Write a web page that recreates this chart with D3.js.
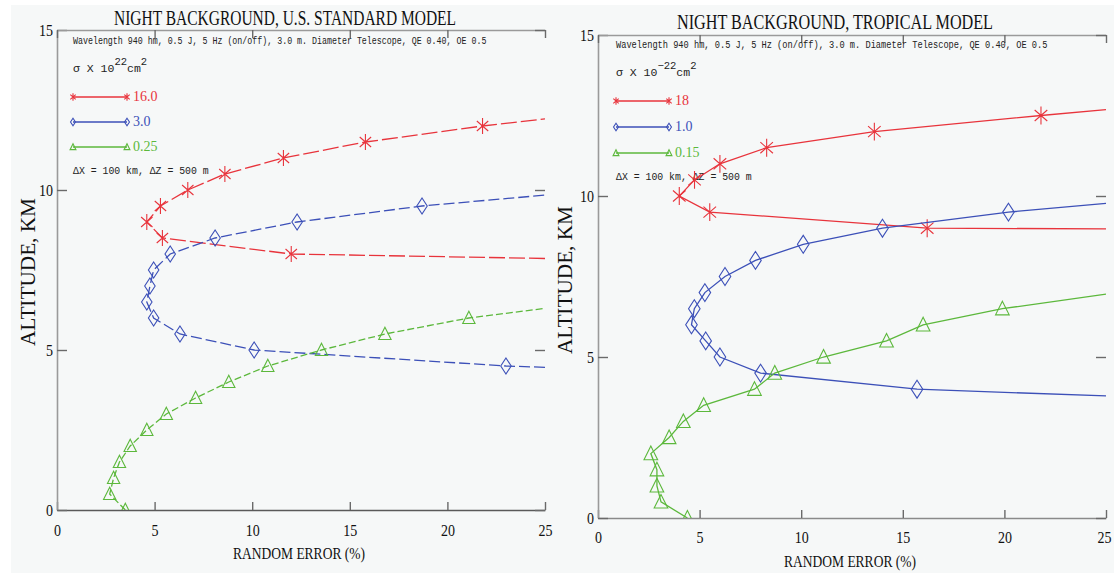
<!DOCTYPE html>
<html>
<head>
<meta charset="utf-8">
<script src="https://cdn.jsdelivr.net/npm/d3@7"></script>
<style>
  body { margin: 0; background: #fff; }
  svg { display: block; }
</style>
</head>
<body>
<div id="chart"></div>
<script>
// random error (%) vs altitude (km)
// U.S. standard model (left)
const usRedAlt = [8.0, 8.5, 9.0, 9.5, 10.0, 10.5, 11.0, 11.5, 12.0];
const usRedErr = [12.0, 5.4, 4.6, 5.3, 6.7, 8.6, 11.6, 15.8, 21.8];
const usRedEdge = [7.86, 12.22];   // altitude where the curve leaves the frame at 25 %
const usBlueAlt = [4.5, 5.0, 5.5, 6.0, 6.5, 7.0, 7.5, 8.0, 8.5, 9.0, 9.5];
const usBlueErr = [23.0, 10.1, 6.3, 4.95, 4.6, 4.76, 4.95, 5.8, 8.1, 12.3, 18.7];
const usBlueEdge = [4.46, 9.84];
const usGreenAlt = [0, 0.5, 1.0, 1.5, 2.0, 2.5, 3.0, 3.5, 4.0, 4.5, 5.0, 5.5, 6.0];
const usGreenErr = [3.5, 2.7, 2.9, 3.2, 3.75, 4.6, 5.6, 7.1, 8.8, 10.8, 13.55, 16.8, 21.1];
const usGreenEdge = [null, 6.3];
const usLegend = ["16.0", "3.0", "0.25"];

// tropical model (right)
const trRedAlt = [9.0, 9.5, 10.0, 10.5, 11.0, 11.5, 12.0, 12.5];
const trRedErr = [16.2, 5.5, 4.0, 4.75, 6.0, 8.3, 13.6, 21.8];
const trRedEdge = [8.98, 12.68];
const trBlueAlt = [4.0, 4.5, 5.0, 5.5, 6.0, 6.5, 7.0, 7.5, 8.0, 8.5, 9.0, 9.5];
const trBlueErr = [15.7, 8.0, 6.0, 5.3, 4.6, 4.74, 5.26, 6.25, 7.75, 10.1, 14.0, 20.2];
const trBlueEdge = [3.79, 9.77];
const trGreenAlt = [0, 0.5, 1.0, 1.5, 2.0, 2.5, 3.0, 3.5, 4.0, 4.5, 5.0, 5.5, 6.0, 6.5];
const trGreenErr = [4.4, 3.1, 2.9, 2.9, 2.6, 3.5, 4.2, 5.2, 7.7, 8.7, 11.1, 14.2, 16.0, 19.9];
const trGreenEdge = [null, 6.95];
const trLegend = ["18", "1.0", "0.15"];

const xTicks = [0, 5, 10, 15, 20, 25];
const yTicks = [0, 5, 10, 15];

const RED = "#e8343c", BLUE = "#3c50b8", GREEN = "#5cb83c";
const W = 1114, H = 579;

const svg = d3.select("#chart").append("svg")
  .attr("width", W).attr("height", H);

svg.append("rect").attr("width", W).attr("height", H).attr("fill", "#fff");
svg.append("rect").attr("x", 11).attr("y", 5).attr("width", W - 11).attr("height", 568)
  .attr("fill", "#f6f8f8");

function series(alt, err) {
  return alt.map((a, i) => [err[i], a]);
}

// squeeze a text horizontally to a given width (keeps its real box narrow)
function squeeze(sel, x, y, width) {
  const w = sel.node().getComputedTextLength();
  sel.attr("transform", `translate(${x},${y}) scale(${width / w},1)`);
}

// marker shapes, centred on (cx, cy)
function markerPath(kind, cx, cy, s) {
  if (kind == "star") {
    const rx = 6 * s, ry = 8.5 * s;
    return `M${cx},${cy - ry}V${cy + ry}` +
      `M${cx - rx},${cy - ry * 0.62}L${cx + rx},${cy + ry * 0.62}` +
      `M${cx - rx},${cy + ry * 0.62}L${cx + rx},${cy - ry * 0.62}`;
  }
  if (kind == "diamond") {
    const rx = 5.5 * s, ry = 8.5 * s;
    return `M${cx},${cy - ry}L${cx + rx},${cy}L${cx},${cy + ry}L${cx - rx},${cy}Z`;
  }
  const hw = 6.5 * s, h = 13 * s;
  return `M${cx},${cy - h * 0.55}L${cx + hw},${cy + h * 0.45}L${cx - hw},${cy + h * 0.45}Z`;
}

function drawPanel(p) {
  const g = svg.append("g");
  const x = d3.scaleLinear().domain([0, 25]).range([p.x0, p.x1]);
  const y = d3.scaleLinear().domain([0, 15]).range([p.y0, p.y1]);

  g.append("clipPath").attr("id", p.id + "-clip")
    .append("rect")
    .attr("x", p.x0).attr("y", p.y1)
    .attr("width", p.x1 - p.x0).attr("height", p.y0 - p.y1);

  // axes
  const fmt = d3.format("d");
  const bottom = g.append("g")
    .attr("transform", `translate(0,${p.y0})`)
    .call(d3.axisBottom(x).tickValues(xTicks).tickFormat(fmt)
      .tickSizeInner(-8).tickSizeOuter(0).tickPadding(p.xPad));
  const left = g.append("g")
    .attr("transform", `translate(${p.x0},0)`)
    .call(d3.axisLeft(y).tickValues(yTicks).tickFormat(fmt)
      .tickSizeInner(-10).tickSizeOuter(0).tickPadding(4));
  const top = g.append("g")
    .attr("transform", `translate(0,${p.y1})`)
    .call(d3.axisTop(x).tickValues(xTicks).tickFormat("")
      .tickSizeInner(-8).tickSizeOuter(0));
  const right = g.append("g")
    .attr("transform", `translate(${p.x1},0)`)
    .call(d3.axisRight(y).tickValues(yTicks).tickFormat("")
      .tickSizeInner(-10).tickSizeOuter(0));
  right.select(".domain").remove();

  [bottom, left, top, right].forEach(a => {
    a.select(".domain").attr("stroke", "#9a9a9a").attr("stroke-width", 1.6);
    a.selectAll(".tick line").attr("stroke", "#6a6a6a").attr("stroke-width", 1.4);
    a.selectAll(".tick text")
      .attr("fill", "#111")
      .style("font-family", "'Liberation Serif', serif")
      .style("font-size", "17px")
      .attr("textLength", d => String(d).length * 7)
      .attr("lengthAdjust", "spacingAndGlyphs");
  });
  bottom.select(".domain").attr("stroke", p.bottomColor);
  // the last x label sits against the page edge on the right panel
  bottom.selectAll(".tick text").filter(d => d == 25).attr("dx", p.lastDx);

  // titles
  g.append("text")
    .attr("x", p.titleX).attr("y", p.titleY)
    .attr("text-anchor", "middle")
    .attr("textLength", p.titleW).attr("lengthAdjust", "spacingAndGlyphs")
    .style("font-family", "'Liberation Serif', serif").style("font-size", "21px")
    .attr("fill", "#111")
    .text(p.title);

  g.append("text")
    .attr("x", (p.x0 + p.x1) / 2 + p.xLabelShift).attr("y", p.xLabelY)
    .attr("text-anchor", "middle")
    .attr("textLength", 132).attr("lengthAdjust", "spacingAndGlyphs")
    .style("font-family", "'Liberation Serif', serif").style("font-size", "17px")
    .attr("fill", "#111")
    .text("RANDOM ERROR (%)");

  g.append("text")
    .attr("transform", `translate(${p.yLabelX},${p.yLabelY}) rotate(-90)`)
    .attr("text-anchor", "middle")
    .attr("textLength", 148).attr("lengthAdjust", "spacingAndGlyphs")
    .style("font-family", "'Liberation Serif', serif").style("font-size", "20px")
    .attr("fill", "#111")
    .text("ALTITUDE, KM");

  // annotation block
  const mono = "'Liberation Mono', monospace";
  const note = g.append("text")
    .style("font-family", mono).style("font-size", "11px").attr("fill", "#222")
    .text("Wavelength 940 hm, 0.5 J, 5 Hz (on/off), 3.0 m. Diameter Telescope, QE 0.40, OE 0.5");
  squeeze(note, p.lx0, p.noteY, p.noteW);

  const sig = g.append("text")
    .attr("x", p.lx0).attr("y", p.sigY)
    .style("font-family", mono).style("font-size", "11.5px").attr("fill", "#222");
  sig.append("tspan").text("σ X 10");
  sig.append("tspan").attr("dy", -7).style("font-size", "10.5px").text(p.sigExp);
  sig.append("tspan").attr("dy", 7).text("cm");
  sig.append("tspan").attr("dy", -7).style("font-size", "10.5px").text("2");

  const dx = g.append("text")
    .style("font-family", mono).style("font-size", "11.5px").attr("fill", "#222")
    .text("ΔX = 100 km, ΔZ = 500 m");
  squeeze(dx, p.lx0, p.dxY, 136);

  const line = d3.line().x(d => x(d[0])).y(d => y(d[1]));
  const plot = g.append("g").attr("clip-path", `url(#${p.id}-clip)`);

  p.series.forEach((s, i) => {
    const pts = series(s.alt, s.err);
    const path = (s.edge[0] != null ? [[25, s.edge[0]]] : [])
      .concat(pts)
      .concat(s.edge[1] != null ? [[25, s.edge[1]]] : []);
    plot.append("path")
      .attr("d", line(path))
      .attr("fill", "none")
      .attr("stroke", s.color)
      .attr("stroke-width", 1.3)
      .attr("stroke-dasharray", p.dashed ? s.dash : null);
    plot.selectAll(null)
      .data(pts)
      .join("path")
      .attr("d", d => markerPath(s.marker, x(d[0]), y(d[1]), p.mScale))
      .attr("fill", "none")
      .attr("stroke", s.color)
      .attr("stroke-width", 1.1);

    // legend entry
    const ly = p.legY[i];
    g.append("line")
      .attr("x1", p.lx0).attr("x2", p.lx1).attr("y1", ly).attr("y2", ly)
      .attr("stroke", s.color).attr("stroke-width", 1.3);
    [p.lx0, p.lx1].forEach(cx => {
      g.append("path")
        .attr("d", markerPath(s.marker, cx, ly, 0.45))
        .attr("fill", "none").attr("stroke", s.color).attr("stroke-width", 1.1);
    });
    g.append("text")
      .attr("x", p.lx1 + 6).attr("y", ly + 4)
      .style("font-family", "'Liberation Serif', serif").style("font-size", "14px")
      .attr("fill", s.color)
      .text(s.label);
  });
}

drawPanel({
  id: "us", x0: 57, x1: 545, y0: 510, y1: 30,
  title: "NIGHT BACKGROUND, U.S. STANDARD MODEL", titleX: 285, titleY: 25, titleW: 342,
  xPad: 14, xLabelShift: -2, xLabelY: 559, yLabelX: 35, yLabelY: 272,
  bottomColor: "#5a5a5a", lastDx: 0,
  lx0: 73, lx1: 127, noteY: 44, noteW: 414, sigY: 72, sigExp: "22", dxY: 174,
  legY: [97, 122, 147],
  dashed: true, mScale: 0.95,
  series: [
    { alt: usRedAlt, err: usRedErr, edge: usRedEdge, color: RED, marker: "star", dash: "16,4", label: usLegend[0] },
    { alt: usBlueAlt, err: usBlueErr, edge: usBlueEdge, color: BLUE, marker: "diamond", dash: "11,4", label: usLegend[1] },
    { alt: usGreenAlt, err: usGreenErr, edge: usGreenEdge, color: GREEN, marker: "triangle", dash: "7,3", label: usLegend[2] }
  ]
});

drawPanel({
  id: "tr", x0: 598, x1: 1106, y0: 518, y1: 35,
  title: "NIGHT BACKGROUND, TROPICAL MODEL", titleX: 835, titleY: 29, titleW: 316,
  xPad: 13, xLabelShift: -2, xLabelY: 567, yLabelX: 572, yLabelY: 280,
  bottomColor: "#8a8a8a", lastDx: -2,
  lx0: 616, lx1: 669, noteY: 48, noteW: 432, sigY: 76, sigExp: "−22", dxY: 180,
  legY: [101, 127, 153],
  dashed: false, mScale: 1.05,
  series: [
    { alt: trRedAlt, err: trRedErr, edge: trRedEdge, color: RED, marker: "star", label: trLegend[0] },
    { alt: trBlueAlt, err: trBlueErr, edge: trBlueEdge, color: BLUE, marker: "diamond", label: trLegend[1] },
    { alt: trGreenAlt, err: trGreenErr, edge: trGreenEdge, color: GREEN, marker: "triangle", label: trLegend[2] }
  ]
});
</script>
</body>
</html>
